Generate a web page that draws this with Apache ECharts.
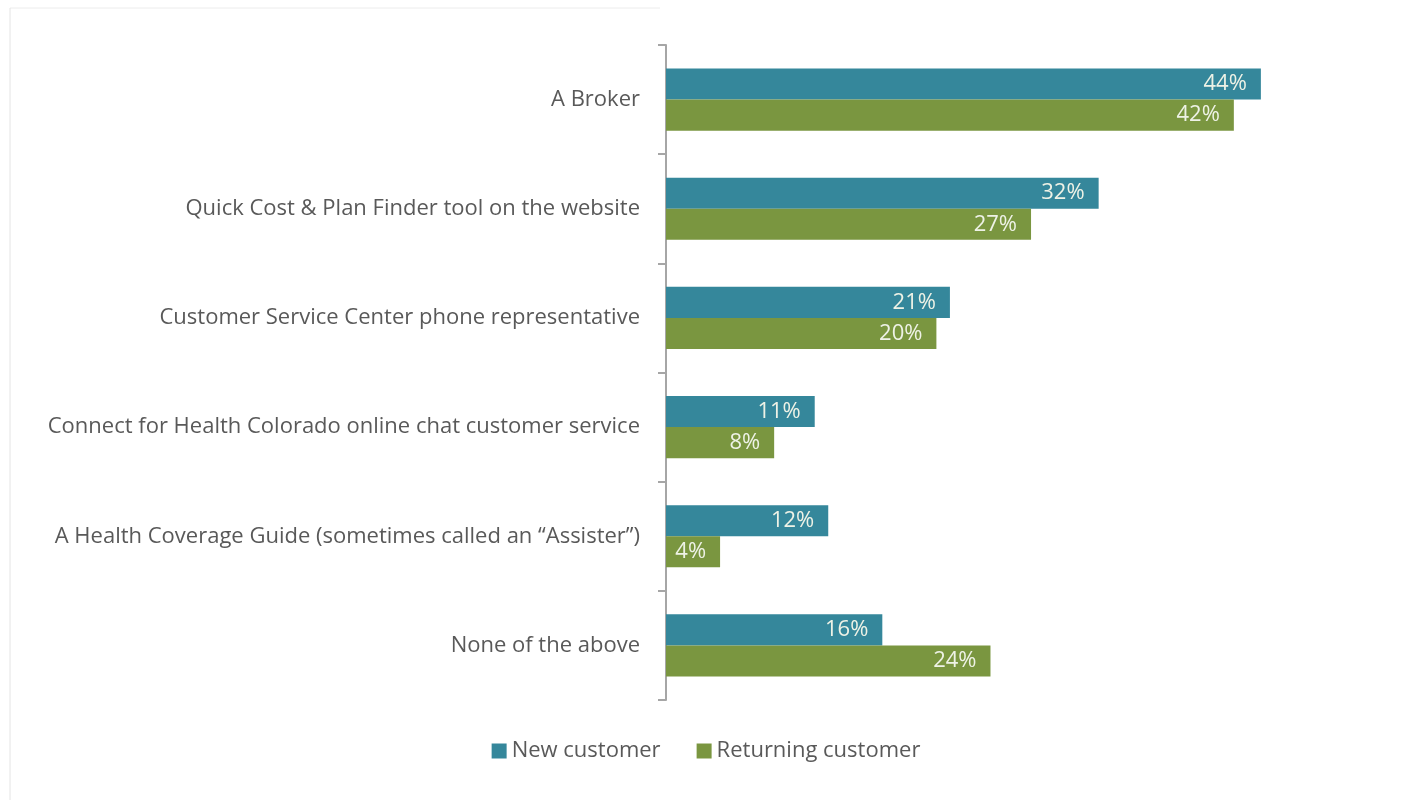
<!DOCTYPE html>
<html>
<head>
<meta charset="utf-8">
<script src="https://cdn.jsdelivr.net/npm/echarts@6/dist/echarts.min.js"></script>
<style>
  html, body { margin: 0; padding: 0; background: #fff; }
  #chart { width: 1412px; height: 804px; }
</style>
</head>
<body>
<div id="chart"></div>
<script>
// 数据
let categories = [
  "A Broker",
  "Quick Cost & Plan Finder tool on the website",
  "Customer Service Center phone representative",
  "Connect for Health Colorado online chat customer service",
  "A Health Coverage Guide (sometimes called an \u201cAssister\u201d)",
  "None of the above"
];
let newCustomer = [44, 32, 21, 11, 12, 16];
let returningCustomer = [42, 27, 20, 8, 4, 24];
let seriesNames = ["New customer", "Returning customer"];

let chart = echarts.init(document.getElementById("chart"));

let labelStyle = {
  show: true,
  position: "insideRight",
  distance: 14,
  color: "#eef2e6",
  fontFamily: "Open Sans",
  fontSize: 22,
  formatter: "{c}%"
};

let option = {
  animation: false,
  color: ["#35879b", "#7a9640"],
  textStyle: { fontFamily: "Open Sans" },
  legend: {
    bottom: 37,
    left: "center",
    itemWidth: 15,
    itemHeight: 15,
    itemGap: 36,
    icon: "rect",
    textStyle: { color: "#595959", fontSize: 22, fontFamily: "Open Sans" },
    data: seriesNames
  },
  grid: {
    left: 666,
    right: 70,
    top: 45,
    bottom: 104,
    containLabel: false
  },
  xAxis: {
    type: "value",
    min: 0,
    max: 50,
    show: false
  },
  yAxis: {
    type: "category",
    inverse: true,
    data: categories,
    axisLine: { show: true, lineStyle: { color: "#a6a6a6", width: 2 } },
    axisTick: { show: true, length: 8, lineStyle: { color: "#a6a6a6", width: 2 } },
    axisLabel: {
      color: "#595959",
      fontSize: 22,
      fontFamily: "Open Sans",
      margin: 26
    },
    splitLine: { show: false }
  },
  graphic: [
    // 截图边框
    { type: "line", shape: { x1: 10, y1: 8, x2: 660, y2: 8 }, style: { stroke: "#ececec", lineWidth: 1 } },
    { type: "line", shape: { x1: 10, y1: 8, x2: 10, y2: 800 }, style: { stroke: "#e4e4e4", lineWidth: 1 } }
  ],
  series: [
    {
      name: seriesNames[0],
      type: "bar",
      data: newCustomer,
      barGap: "0%",
      barCategoryGap: "43%",
      label: labelStyle
    },
    {
      name: seriesNames[1],
      type: "bar",
      data: returningCustomer,
      label: labelStyle
    }
  ]
};

chart.setOption(option, true);
</script>
</body>
</html>
